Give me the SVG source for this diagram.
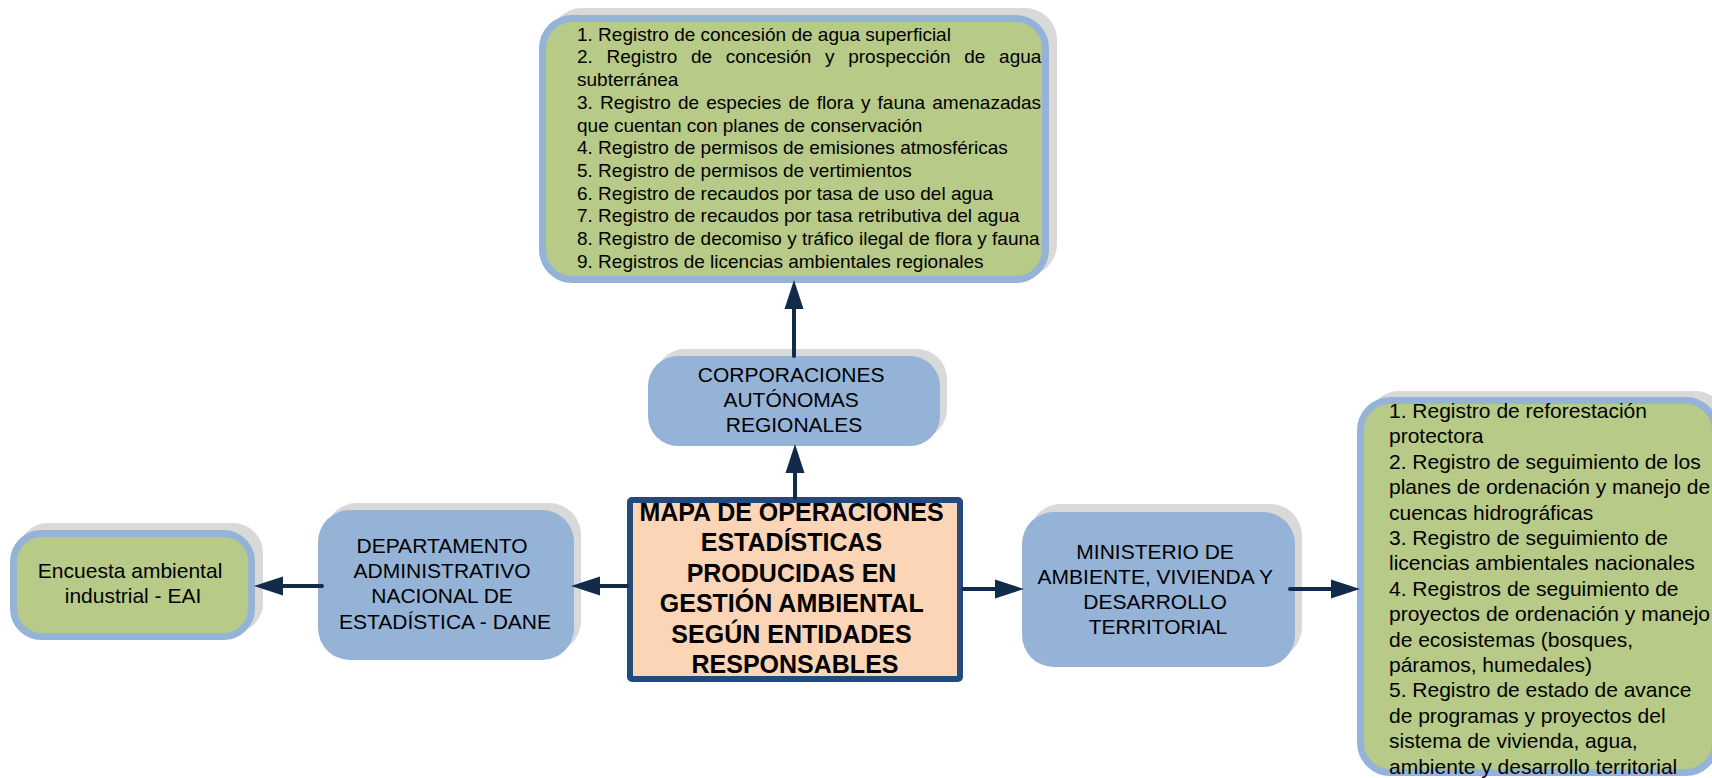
<svg xmlns="http://www.w3.org/2000/svg" width="1712" height="778" viewBox="0 0 1712 778">
<style>
text{font-family:"Liberation Sans",Arial,sans-serif;fill:#000}
.t21{font-size:21px}
.t19{font-size:19px}
.c{text-anchor:middle}
.b{font-size:25px;font-weight:bold;text-anchor:middle}
.sh{fill:#D9D9D9}
.blue{fill:#95B3D7}
.green{fill:#B7CA88;stroke:#95B3D7;stroke-width:7}
.conn{stroke:#132B4B;stroke-width:4;fill:none;stroke-linecap:round;marker-end:url(#ah)}
</style>
<defs>
<marker id="ah" markerUnits="userSpaceOnUse" markerWidth="30" markerHeight="20" refX="0" refY="9.5" orient="auto" viewBox="0 0 30 19">
<path d="M0,0 L29,9.5 L0,19 Z" fill="#132B4B"/>
</marker>
</defs>
<rect width="1712" height="778" fill="#fff"/>

<g id="top-box">
<rect class="sh" x="550" y="8" width="507" height="268" rx="32"/>
<rect class="green" x="542.5" y="18.5" width="503" height="261" rx="30"/>
<text class="t19">
<tspan x="577" y="40.7">1. Registro de concesión de agua superficial</tspan>
<tspan x="577" y="63.4" word-spacing="8.4">2. Registro de concesión y prospección de agua</tspan>
<tspan x="577" y="86.1">subterránea</tspan>
<tspan x="577" y="108.8" word-spacing="1.9">3. Registro de especies de flora y fauna amenazadas</tspan>
<tspan x="577" y="131.5">que cuentan con planes de conservación</tspan>
<tspan x="577" y="154.2">4. Registro de permisos de emisiones atmosféricas</tspan>
<tspan x="577" y="176.9">5. Registro de permisos de vertimientos</tspan>
<tspan x="577" y="199.6">6. Registro de recaudos por tasa de uso del agua</tspan>
<tspan x="577" y="222.3">7. Registro de recaudos por tasa retributiva del agua</tspan>
<tspan x="577" y="245">8. Registro de decomiso y tráfico ilegal de flora y fauna</tspan>
<tspan x="577" y="267.7">9. Registros de licencias ambientales regionales</tspan>
</text>
</g>

<g id="corporaciones">
<rect class="sh" x="655" y="349" width="292" height="90" rx="30"/>
<rect class="blue" x="648" y="356" width="292" height="90" rx="30"/>
<text class="t21 c">
<tspan x="794" y="382">CORPORACIONES</tspan>
<tspan x="794" y="407">AUTÓNOMAS</tspan>
<tspan x="794" y="432">REGIONALES</tspan>
</text>
</g>

<g id="central">
<rect x="630" y="500" width="330" height="179" fill="#FBD5B5"/>
<text class="b">
<tspan x="795" y="520.5">MAPA DE OPERACIONES</tspan>
<tspan x="795" y="551">ESTADÍSTICAS</tspan>
<tspan x="795" y="581.5">PRODUCIDAS EN</tspan>
<tspan x="795" y="612">GESTIÓN AMBIENTAL</tspan>
<tspan x="795" y="642.5">SEGÚN ENTIDADES</tspan>
<tspan x="795" y="673">RESPONSABLES</tspan>
</text>
<rect x="630" y="500" width="330" height="179" rx="2" fill="none" stroke="#234A7E" stroke-width="6"/>
</g>

<g id="dane">
<rect class="sh" x="325" y="503" width="256" height="150" rx="32"/>
<rect class="blue" x="318" y="510" width="256" height="150" rx="32"/>
<text class="t21 c">
<tspan x="445" y="553">DEPARTAMENTO</tspan>
<tspan x="445" y="578">ADMINISTRATIVO</tspan>
<tspan x="445" y="603">NACIONAL DE</tspan>
<tspan x="445" y="629">ESTADÍSTICA - DANE</tspan>
</text>
</g>

<g id="eai">
<rect class="sh" x="18" y="523" width="245" height="110" rx="30"/>
<rect class="green" x="13.5" y="533.5" width="238" height="103" rx="28"/>
<text class="t21 c">
<tspan x="133" y="578">Encuesta ambiental</tspan>
<tspan x="133" y="603">industrial - EAI</tspan>
</text>
</g>

<g id="ministerio">
<rect class="sh" x="1029" y="504" width="273" height="155" rx="32"/>
<rect class="blue" x="1022" y="512" width="273" height="155" rx="32"/>
<text class="t21 c">
<tspan x="1158" y="558.5">MINISTERIO DE</tspan>
<tspan x="1158" y="583.8">AMBIENTE, VIVIENDA Y</tspan>
<tspan x="1158" y="609.1">DESARROLLO</tspan>
<tspan x="1158" y="634.4">TERRITORIAL</tspan>
</text>
</g>

<g id="right-box">
<rect class="sh" x="1367" y="391" width="360" height="378" rx="32"/>
<rect class="green" x="1360.5" y="400.5" width="355" height="372" rx="30"/>
<text class="t21">
<tspan x="1389" y="418">1. Registro de reforestación</tspan>
<tspan x="1389" y="443.4">protectora</tspan>
<tspan x="1389" y="468.8">2. Registro de seguimiento de los</tspan>
<tspan x="1389" y="494.2">planes de ordenación y manejo de</tspan>
<tspan x="1389" y="519.6">cuencas hidrográficas</tspan>
<tspan x="1389" y="545">3. Registro de seguimiento de</tspan>
<tspan x="1389" y="570.4">licencias ambientales nacionales</tspan>
<tspan x="1389" y="595.8">4. Registros de seguimiento de</tspan>
<tspan x="1389" y="621.2">proyectos de ordenación y manejo</tspan>
<tspan x="1389" y="646.6">de ecosistemas (bosques,</tspan>
<tspan x="1389" y="672">páramos, humedales)</tspan>
<tspan x="1389" y="697.4">5. Registro de estado de avance</tspan>
<tspan x="1389" y="722.8">de programas y proyectos del</tspan>
<tspan x="1389" y="748.2">sistema de vivienda, agua,</tspan>
<tspan x="1389" y="773.6">ambiente y desarrollo territorial</tspan>
</text>
</g>

<g id="connectors">
<path class="conn" d="M795,498 L795,473"/>
<path class="conn" d="M794,356 L794,309"/>
<path class="conn" d="M627,586 L600,586"/>
<path class="conn" d="M322,586 L283,586"/>
<path class="conn" d="M963,589 L995,589"/>
<path class="conn" d="M1290,589 L1331,589"/>
</g>
</svg>
